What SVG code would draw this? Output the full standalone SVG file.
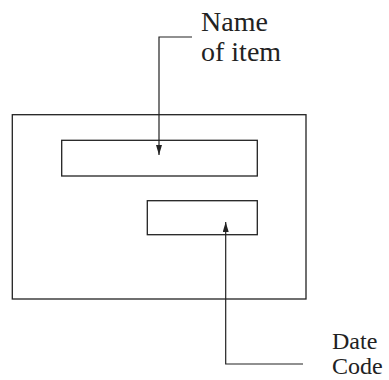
<svg xmlns="http://www.w3.org/2000/svg" width="389" height="380" viewBox="0 0 389 380">
<style>
.box{fill:none;stroke:#222;stroke-width:1.3}
.ln{fill:none;stroke:#222;stroke-width:1.2}
text{font-family:'Liberation Serif','Times New Roman','DejaVu Serif',serif;fill:#222}
</style>
<defs>
<marker id="ah" viewBox="0 0 10 6" refX="10" refY="3" markerWidth="10" markerHeight="6" markerUnits="userSpaceOnUse" orient="auto">
<path d="M0,0 L10,3 L0,6 Z" fill="#222"/>
</marker>
</defs>
<rect width="389" height="380" fill="#fff"/>
<g id="label-outer">
<rect class="box" x="12.3" y="114.7" width="293.7" height="184.3"/>
</g>
<g id="name-field">
<rect class="box" x="61.7" y="140.3" width="195.6" height="35.7"/>
</g>
<g id="date-field">
<rect class="box" x="147.3" y="200.7" width="110" height="34"/>
</g>
<g id="name-label">
<text x="201" y="30.5" font-size="28">Name</text>
<text x="201" y="61" font-size="28">of item</text>
</g>
<g id="date-label">
<text x="332" y="348.5" font-size="24">Date</text>
<text x="332" y="373.5" font-size="24">Code</text>
</g>
<g id="connectors">
<path class="ln" d="M192,37 H159 V155" marker-end="url(#ah)"/>
<path class="ln" d="M303,364 H225.7 V222" marker-end="url(#ah)"/>
</g>
</svg>
